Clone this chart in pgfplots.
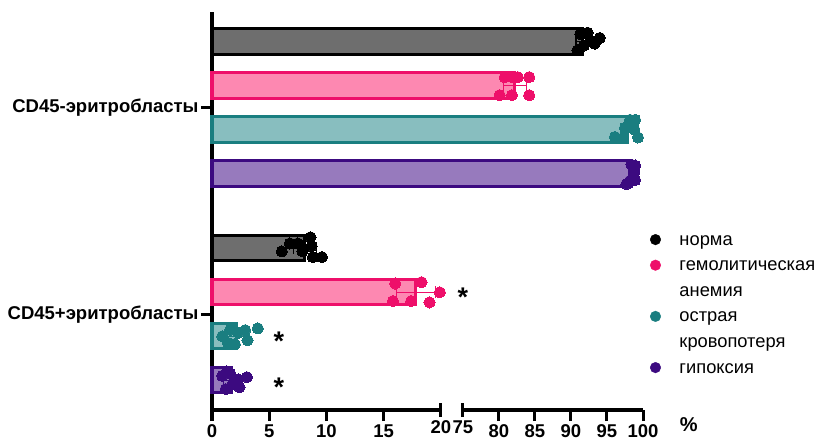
\documentclass[border=0pt]{standalone}
\usepackage{pgfplots}
\pgfplotsset{compat=1.18}
\usepackage{fontspec}
\setmainfont{Liberation Sans}

\definecolor{normaEdge}{HTML}{000000}
\definecolor{normaFill}{HTML}{6E6E6E}
\definecolor{hemEdge}{HTML}{EE0F6A}
\definecolor{hemFill}{HTML}{FD88B1}
\definecolor{bloodEdge}{HTML}{1A7E80}
\definecolor{bloodFill}{HTML}{88BEBF}
\definecolor{hypEdge}{HTML}{3C0A80}
\definecolor{hypFill}{HTML}{977ABD}

\pgfplotsset{
  groupbar/.style={xbar, bar shift=0pt, bar width=0.57, line width=3bp, forget plot},
  whisker/.style={line width=1.3bp, mark=|, mark size=6bp, mark options={line width=1.3bp}, forget plot},
  dots/.style={only marks, mark=*, mark size=5.6bp, color=#1, mark options={draw=#1, fill=#1, line width=0pt}},
}

\begin{document}
\begin{tikzpicture}
\useasboundingbox (0,0) rectangle (823bp,443bp);
\begin{axis}[
  at={(212bp,33bp)}, anchor=south west,
  scale only axis, width=431bp, height=398bp,
  xmin=0, xmax=100, ymin=-8.375, ymax=0.67,
  % broken scale: 0..20 linear, then 75..100 compressed after a short gap
  x coord trafo/.code={\pgfmathparse{(#1<=20) ? (#1) : (21.92+(#1-75)*0.629)}},
  x coord inv trafo/.code={\pgfmathparse{(#1<=20) ? (#1) : (75+(#1-21.92)/0.629)}},
  axis x line*=bottom, axis y line*=left,
  x axis line style={draw=none},
  y axis line style={line width=3bp},
  xtick={0,5,10,15,80,85,90,95,100},
  xticklabels={0,5,10,15,80,85,90,95,100},
  extra x ticks={20,75}, extra x tick labels={20,75},
  extra x tick style={major tick length=14bp, tick align=center},
  ytick={-1.5,-6.2},
  yticklabels={CD45-эритробласты, CD45+эритробласты},
  tick align=outside, major tick length=11bp,
  major tick style={line width=3bp, black},
  tick label style={font=\fontsize{18.5bp}{20bp}\selectfont\bfseries},
  yticklabel style={xshift=1bp},
  /pgf/number format/assume math mode=true,
  xlabel={\%},
  xlabel style={at={(axis description cs:1.106,-0.037)}, anchor=center,
                font=\fontsize{20bp}{20bp}\selectfont\bfseries},
  clip=false,
  legend cell align=left,
  legend style={at={(axis description cs:1.0162,0.4470)}, anchor=north west,
    draw=none, fill=none, inner sep=0pt, outer sep=0pt, row sep=8.6bp,
    font=\fontsize{18.3bp}{20bp}\selectfont,
    nodes={inner sep=0pt, text height=13bp, text depth=4bp},
    /tikz/every odd column/.append style={column sep=18.5bp}},
  legend image code/.code={\fill[#1] (0bp,1bp) circle (5.3bp);},
]
% x axis drawn in two pieces around the break
\draw[line width=3bp] (rel axis cs:0,0) -- (rel axis cs:0.53128,0);
\draw[line width=3bp] (rel axis cs:0.58228,0) -- (rel axis cs:1,0);

% норма
\addplot[groupbar, draw=normaEdge, fill=normaFill] coordinates {(91.6,0) (8.1,-4.7)};
\addplot[whisker, normaEdge] coordinates {(90.7,0) (92.6,0)};
\addplot[whisker, normaEdge] coordinates {(7.1,-4.7) (9.1,-4.7)};
\addplot[dots=normaEdge] coordinates {
  (90.9,-0.2) (91.3,0.17) (91.8,-0.09) (92.3,0.2) (92.7,0.02) (93.3,-0.05) (94.0,0.08)
  (6.1,-4.77) (6.8,-4.59) (7.5,-4.59) (7.9,-4.77) (8.6,-4.45) (8.7,-4.65) (8.8,-4.9) (9.6,-4.9)};
\addlegendentry{норма}

% гемолитическая анемия
\addplot[groupbar, draw=hemEdge, fill=hemFill] coordinates {(82.2,-1) (17.8,-5.7)};
\addplot[whisker, hemEdge] coordinates {(80.6,-1) (83.8,-1)};
\addplot[whisker, hemEdge] coordinates {(16.1,-5.7) (19.5,-5.7)};
\addplot[dots=hemEdge] coordinates {
  (80.8,-0.81) (81.8,-0.81) (82.6,-0.81) (84.2,-0.81) (80.1,-1.22) (81.8,-1.22) (84.2,-1.22)
  (16.0,-5.5) (18.3,-5.47) (19.9,-5.7) (19.0,-5.93) (15.8,-5.9) (17.4,-5.9)};
\addlegendentry{гемолитическая}
\addlegendimage{empty legend}
\addlegendentry{анемия}

% острая кровопотеря
\addplot[groupbar, draw=bloodEdge, fill=bloodFill] coordinates {(97.9,-2) (2.1,-6.7)};
\addplot[whisker, bloodEdge] coordinates {(96.9,-2) (98.9,-2)};
\addplot[whisker, bloodEdge] coordinates {(1.2,-6.7) (3.0,-6.7)};
\addplot[dots=bloodEdge] coordinates {
  (98.2,-1.78) (98.9,-1.78) (97.5,-1.96) (98.8,-2.0) (96.1,-2.17) (97.2,-2.2) (99.3,-2.18)
  (2.9,-6.56) (4.0,-6.52) (3.1,-6.79) (2.3,-6.62) (1.6,-6.55) (1.4,-6.85) (0.9,-6.7) (2.0,-6.88)};
\addlegendentry{острая}
\addlegendimage{empty legend}
\addlegendentry{кровопотеря}

% гипоксия
\addplot[groupbar, draw=hypEdge, fill=hypFill] coordinates {(98.4,-3) (1.7,-7.7)};
\addplot[whisker, hypEdge] coordinates {(98.0,-3) (98.8,-3)};
\addplot[whisker, hypEdge] coordinates {(1.0,-7.7) (2.5,-7.7)};
\addplot[dots=hypEdge] coordinates {
  (98.4,-2.8) (98.9,-2.82) (98.7,-3.0) (98.9,-3.15) (98.2,-3.17) (97.7,-3.24) (98.8,-2.93)
  (3.05,-7.63) (2.3,-7.68) (2.4,-7.86) (1.8,-7.79) (1.3,-7.5) (0.9,-7.6) (1.2,-7.9) (1.6,-7.55)};
\addlegendentry{гипоксия}

% significance marks
\node[font=\fontsize{27bp}{27bp}\selectfont\bfseries, yshift=-6bp] at (axis description cs:0.582,0.299) {*};
\node[font=\fontsize{27bp}{27bp}\selectfont\bfseries, yshift=-6bp] at (axis description cs:0.155,0.188) {*};
\node[font=\fontsize{27bp}{27bp}\selectfont\bfseries, yshift=-6bp] at (axis description cs:0.155,0.073) {*};
\end{axis}
\end{tikzpicture}
\end{document}
